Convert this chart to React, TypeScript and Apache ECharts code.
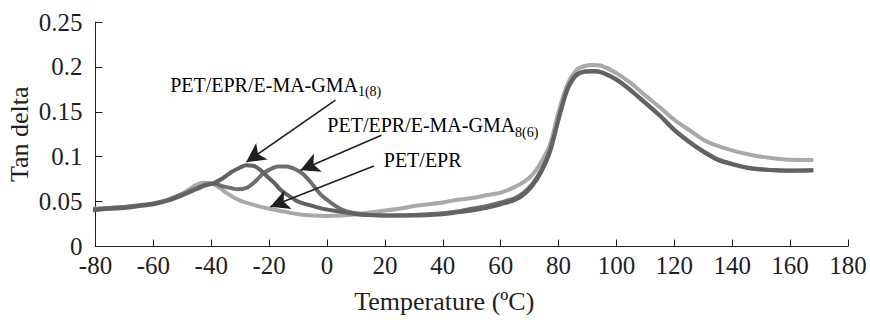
import React, { useEffect, useRef } from "react";
import * as echarts from "echarts";

// Temperature (°C) and tan delta values
const petEprT = [-82, -75, -70, -65, -60, -55, -50, -46, -43, -40, -37, -34, -30, -25, -20, -15, -10, -5, 0, 5, 10, 15, 20, 25, 30, 35, 40, 45, 50, 55, 60, 64, 68, 71, 74, 77, 80, 83, 86, 89, 92, 95, 100, 105, 110, 115, 120, 125, 130, 135, 140, 145, 150, 155, 160, 168];
const petEprV = [0.042, 0.043, 0.044, 0.045, 0.048, 0.052, 0.059, 0.067, 0.071, 0.0705, 0.065, 0.058, 0.051, 0.046, 0.042, 0.039, 0.036, 0.0345, 0.034, 0.0345, 0.036, 0.038, 0.040, 0.042, 0.045, 0.047, 0.049, 0.052, 0.054, 0.057, 0.060, 0.065, 0.072, 0.080, 0.094, 0.113, 0.150, 0.180, 0.196, 0.201, 0.202, 0.201, 0.193, 0.182, 0.168, 0.155, 0.141, 0.130, 0.119, 0.112, 0.107, 0.103, 0.100, 0.098, 0.0965, 0.0963];

const gma18T = [-82, -75, -70, -65, -60, -55, -50, -45, -42, -39, -36, -33, -30, -28, -25.5, -23, -20.7, -18, -16, -13, -10, -6, -2, 2, 6, 10, 15, 20, 30, 40, 45, 50, 55, 60, 65, 68, 71, 74, 77, 80, 83, 86, 89, 92, 95, 100, 105, 110, 115, 120, 125, 130, 135, 140, 145, 150, 155, 160, 168];
const gma18V = [0.040, 0.042, 0.043, 0.045, 0.047, 0.051, 0.057, 0.064, 0.068, 0.071, 0.076, 0.083, 0.088, 0.0905, 0.090, 0.085, 0.078, 0.070, 0.063, 0.056, 0.050, 0.046, 0.0425, 0.040, 0.038, 0.036, 0.035, 0.0345, 0.0345, 0.036, 0.038, 0.040, 0.043, 0.047, 0.052, 0.058, 0.068, 0.083, 0.105, 0.142, 0.175, 0.191, 0.195, 0.1955, 0.194, 0.186, 0.174, 0.160, 0.146, 0.130, 0.117, 0.106, 0.097, 0.092, 0.088, 0.086, 0.085, 0.0845, 0.085];

const gma86T = [-82, -75, -70, -65, -60, -55, -50, -45, -42, -39, -36, -33, -31, -28, -26, -24, -22, -19, -17, -14, -11, -8, -5, -2.5, 0, 3, 6, 10, 15, 20, 30, 40, 45, 50, 55, 60, 65, 68, 71, 74, 77, 80, 83, 86, 89, 92, 95, 100, 105, 110, 115, 120, 125, 130, 135, 140, 145, 150, 155, 160, 168];
const gma86V = [0.041, 0.043, 0.044, 0.046, 0.048, 0.052, 0.058, 0.065, 0.069, 0.070, 0.067, 0.065, 0.0637, 0.065, 0.069, 0.075, 0.0815, 0.087, 0.089, 0.089, 0.086, 0.080, 0.069, 0.059, 0.052, 0.045, 0.040, 0.037, 0.035, 0.0345, 0.035, 0.037, 0.039, 0.042, 0.045, 0.049, 0.054, 0.060, 0.070, 0.085, 0.107, 0.142, 0.174, 0.190, 0.1945, 0.195, 0.1935, 0.1855, 0.1735, 0.1595, 0.1455, 0.1295, 0.1165, 0.1055, 0.0965, 0.0915, 0.0878, 0.0858, 0.0848, 0.0843, 0.0848];

const seriesNames = ["PET/EPR", "PET/EPR/E-MA-GMA8(6)", "PET/EPR/E-MA-GMA1(8)"];

// Annotation labels: [main text, subscript], anchored (left, top) in data coords
const annoMain = ["PET/EPR/E-MA-GMA", "PET/EPR/E-MA-GMA", "PET/EPR"];
const annoSub = ["1(8)", "8(6)", ""];
const annoAnchor = [[-54.2, 0.191], [0.1, 0.1464], [19.6, 0.1075]];
// Arrows: [from, to] in data coords
const arrowFrom = [[2.9, 0.163], [18.8, 0.124], [16.2, 0.0896]];
const arrowTo = [[-27.9, 0.094], [-9.2, 0.085], [-19.6, 0.0443]];

const FONT = "Liberation Serif";

const zip = (t: number[], v: number[]) => t.map((x, i) => [x, v[i]]);

export default function App() {
  const ref = useRef<HTMLDivElement>(null);
  useEffect(() => {
    const chart = echarts.init(ref.current!, null, { renderer: "svg" });
    const option: any = {
      animation: false,
      backgroundColor: "#ffffff",
      textStyle: { fontFamily: FONT },
      grid: { left: 95.5, right: 22, top: 22, bottom: 73.5, containLabel: false, outerBoundsMode: "none" },
      xAxis: {
        type: "value",
        min: -80,
        max: 180,
        interval: 20,
        name: "Temperature (ºC)",
        nameLocation: "middle",
        nameGap: 42,
        nameMoveOverlap: false,
        nameTextStyle: { fontFamily: FONT, fontSize: 26, color: "#231f20", padding: [0, 55, 0, 0] },
        axisLine: { onZero: false, lineStyle: { color: "#231f20", width: 1 } },
        axisTick: { inside: true, length: 7, lineStyle: { color: "#231f20" } },
        axisLabel: { fontFamily: FONT, fontSize: 25, color: "#231f20", margin: 6 },
        splitLine: { show: false },
      },
      yAxis: {
        type: "value",
        min: 0,
        max: 0.25,
        interval: 0.05,
        name: "Tan delta",
        nameLocation: "middle",
        nameGap: 63,
        nameMoveOverlap: false,
        nameRotate: 90,
        nameTextStyle: { fontFamily: FONT, fontSize: 26, color: "#231f20" },
        axisLine: { show: true, onZero: false, lineStyle: { color: "#231f20", width: 1 } },
        axisTick: { show: true, inside: true, length: 7, lineStyle: { color: "#231f20" } },
        axisLabel: {
          fontFamily: FONT,
          fontSize: 25,
          color: "#231f20",
          margin: 13,
          formatter: (v: number) => String(+v.toFixed(2)),
        },
        splitLine: { show: false },
      },
      series: [
        {
          name: seriesNames[0],
          type: "line",
          data: zip(petEprT, petEprV),
          showSymbol: false,
          smooth: 0.3,
          lineStyle: { color: "#a9a9a9", width: 4 },
          markLine: {
            silent: true,
            animation: false,
            symbol: ["none", "arrow"],
            symbolSize: [15, 19],
            label: { show: false },
            lineStyle: { color: "#231f20", width: 1.6, type: "solid" },
            data: arrowFrom.map((f, i) => [{ coord: f }, { coord: arrowTo[i] }]),
          },
        },
        {
          name: seriesNames[1],
          type: "line",
          data: zip(gma86T, gma86V),
          showSymbol: false,
          smooth: 0.3,
          lineStyle: { color: "#6e6e6e", width: 4 },
        },
        {
          name: seriesNames[2],
          type: "line",
          data: zip(gma18T, gma18V),
          showSymbol: false,
          smooth: 0.3,
          lineStyle: { color: "#626262", width: 4 },
        },
      ],
    };
    chart.setOption(option);
    const graphic = annoMain.map((txt, i) => {
      const p = chart.convertToPixel({ gridIndex: 0 }, annoAnchor[i]) as number[];
      const content = annoSub[i] ? `{m|${txt}}{s|${annoSub[i]}}` : `{m|${txt}}`;
      return {
        type: "text",
        x: p[0],
        y: p[1],
        silent: true,
        style: {
          text: content,
          align: "left",
          verticalAlign: "top",
          rich: {
            m: { fontFamily: FONT, fontSize: 20, lineHeight: 22, color: "#231f20", verticalAlign: "top" },
            s: { fontFamily: FONT, fontSize: 14, lineHeight: 16, color: "#231f20", verticalAlign: "top", padding: [10, 0, 0, 0] },
          },
        },
      };
    });
    chart.setOption({ graphic });
    return () => chart.dispose();
  }, []);
  return <div ref={ref} style={{ position: "fixed", left: 0, top: 0, width: 870, height: 320 }} />;
}
